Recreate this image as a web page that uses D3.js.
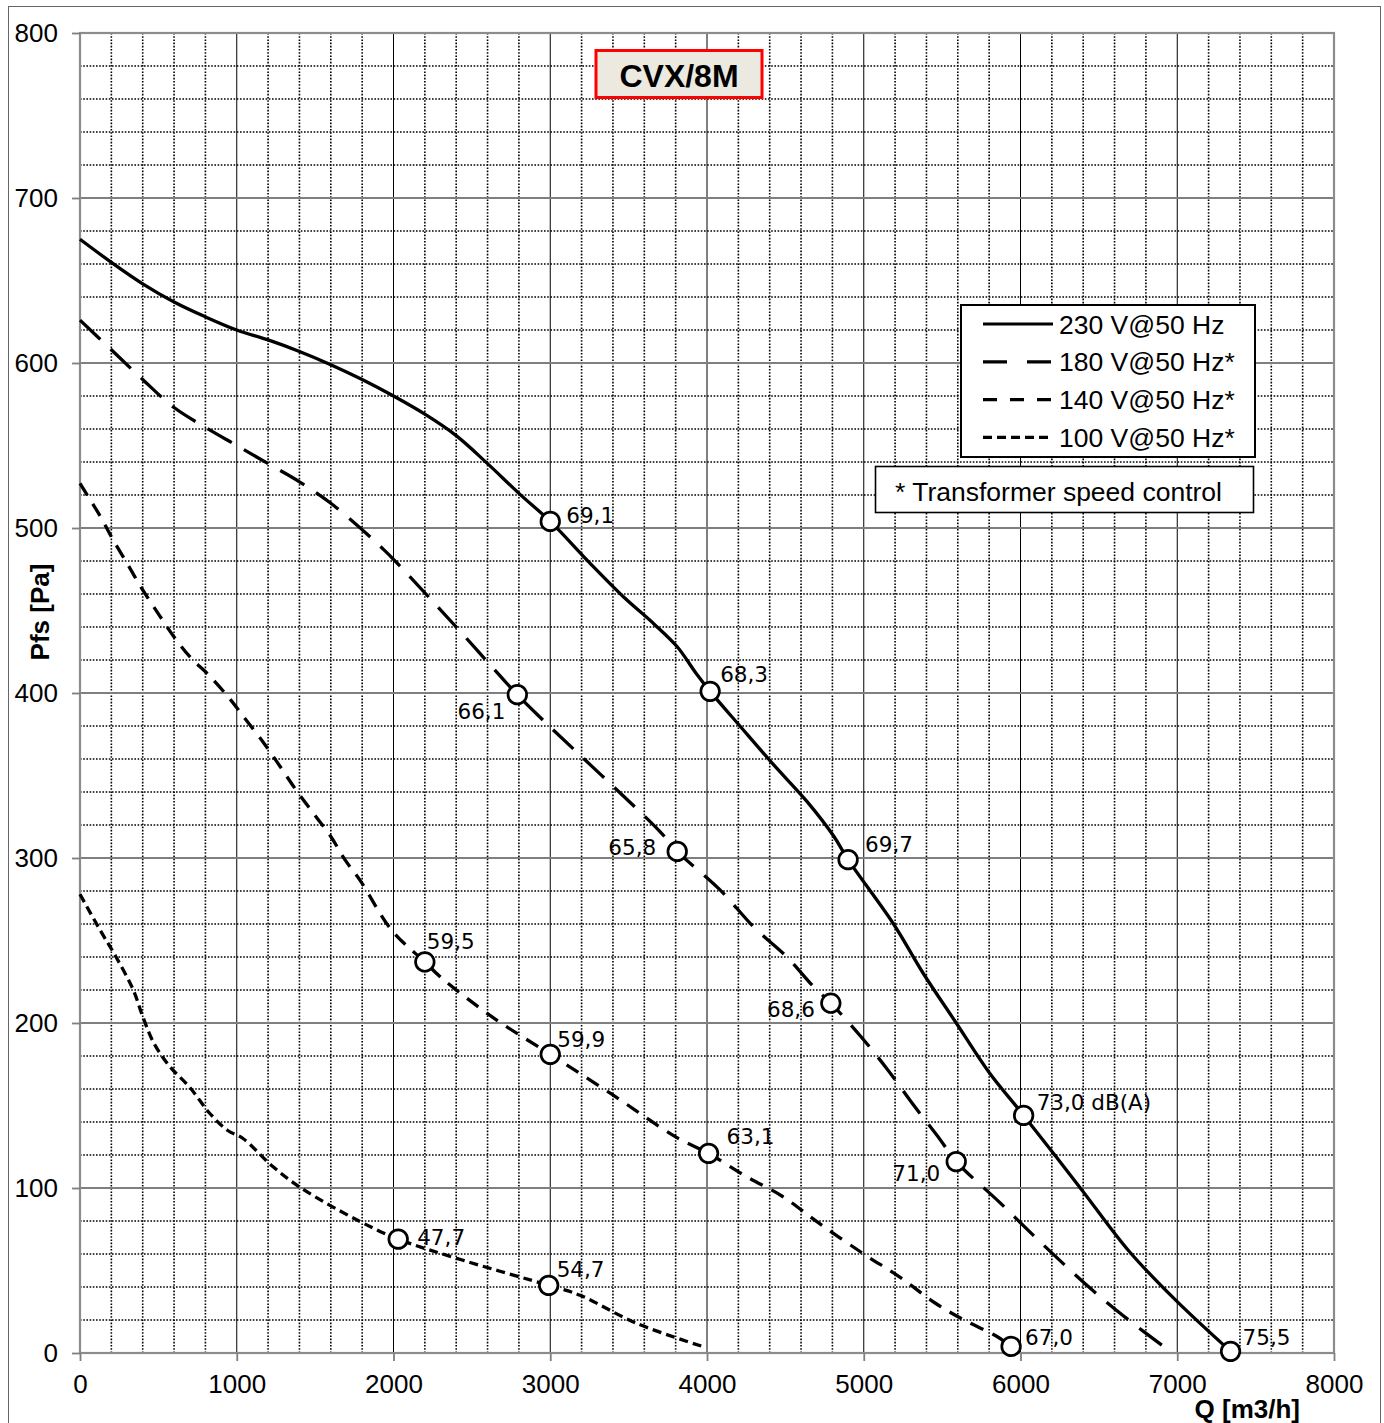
<!DOCTYPE html>
<html>
<head>
<meta charset="utf-8">
<script src="https://cdn.jsdelivr.net/npm/d3@7"></script>
<style>
  body { margin: 0; background: #fff; }
  svg { display: block; }
</style>
</head>
<body>
<svg id="chart"></svg>
<script>
// fan curves, CVX/8M  (Q in m3/h, Pfs in Pa)
const xTicks = [0, 1000, 2000, 3000, 4000, 5000, 6000, 7000, 8000];
const yTicks = [0, 100, 200, 300, 400, 500, 600, 700, 800];

const seriesNames = ["230 V@50 Hz", "180 V@50 Hz*", "140 V@50 Hz*", "100 V@50 Hz*"];

const curve230 = [[0,675],[200,661],[400,648],[600,637],[800,628],[1000,620],[1200,614],[1400,607],
  [1600,599],[1800,590],[2000,580],[2200,569],[2400,556],[2600,539],[2800,521],[3000,504],[3250,479],
  [3470,458],[3660,442],[3810,428],[3930,412],[4020,401],[4210,380],[4420,357],[4640,334],[4810,313],
  [4900,299],[5190,260],[5380,230],[5590,200],[5800,170],[6020,144],[6390,99],[6690,62],[6990,32],[7340,1]];

const curve180 = [[0,626],[200,608],[400,590],[600,573],[800,561],[1000,550],[1200,539],[1400,528],
  [1600,515],[1800,499],[1925,488],[2000,481],[2400,440],[2790,399],[2960,383],[3700,316],[3810,304],
  [4080,281],[4300,258],[4510,240],[4680,222],[4790,212],[4980,192],[5150,172],[5320,150],[5490,129],
  [5590,116],[5870,91],[6140,66],[6460,38],[6690,20],[6940,2],[6966,0]];

const curve140 = [[0,527],[130,507],[210,493],[310,477],[390,464],[500,448],[600,434],[710,421],
  [820,411],[960,396],[1040,386],[1170,370],[1280,355],[1380,341],[1490,327],[1600,313],[1690,299],
  [1790,286],[1990,256],[2200,237],[2310,227],[2640,203],[3000,181],[3390,157],[3800,131],[4010,121],
  [4250,107],[4480,95],[4710,79],[5000,60],[5230,46],[5460,30],[5640,20],[5850,10],[5940,4]];

const curve100 = [[0,278],[130,256],[230,240],[340,220],[400,204],[470,188],[570,174],[700,161],
  [830,145],[940,135],[1040,130],[1230,113],[1410,100],[1780,80],[2030,69],[2450,56],[2990,41],
  [3190,35],[3550,18],[3970,4]];

// operating points with noise level
const points230 = [[3000,504,"69,1"],[4020,401,"68,3"],[4900,299,"69,7"],[6020,144,"73,0 dB(A)"],[7340,1,"75,5"]];
const points180 = [[2790,399,"66,1"],[3810,304,"65,8"],[4790,212,"68,6"],[5590,116,"71,0"]];
const points140 = [[2200,237,"59,5"],[3000,181,"59,9"],[4010,121,"63,1"],[5940,4,"67,0"]];
const points100 = [[2030,69,"47,7"],[2990,41,"54,7"]];

const title = "CVX/8M";
const footnote = "* Transformer speed control";

// label offsets from the marker (dx, dy, anchor) - same order as the point arrays
const labelPos230 = [[16,-6,"start"],[10,-17,"start"],[17,-15,"start"],[13,-13,"start"],[12,-14,"start"]];
const labelPos180 = [[-12,17,"end"],[-21,-4,"end"],[-16,6,"end"],[-16,12,"end"]];
const labelPos140 = [[2,-21,"start"],[7,-15,"start"],[18,-17,"start"],[14,-9,"start"]];
const labelPos100 = [[19,-2,"start"],[8,-16,"start"]];

const series = [
  { name: seriesNames[0], data: curve230, pts: points230, lbl: labelPos230, dash: null,    legendDash: null },
  { name: seriesNames[1], data: curve180, pts: points180, lbl: labelPos180, dash: "28,14", legendDash: "24,20" },
  { name: seriesNames[2], data: curve140, pts: points140, lbl: labelPos140, dash: "14,10", legendDash: "14,13" },
  { name: seriesNames[3], data: curve100, pts: points100, lbl: labelPos100, dash: "9,5",   legendDash: "9,5" }
];

const W = 1384, H = 1423;
const mLeft = 80, mRight = 1334, mTop = 33, mBottom = 1353;
const axisFont = "'Liberation Sans', Arial, sans-serif";

const svg = d3.select("#chart").attr("width", W).attr("height", H);

const x = d3.scaleLinear().domain([0, 8000]).range([mLeft, mRight]);
const y = d3.scaleLinear().domain([0, 800]).range([mBottom, mTop]);

// outer frame of the picture
svg.append("rect")
  .attr("x", 8.5).attr("y", 6.5).attr("width", 1372).attr("height", 1440)
  .attr("fill", "none").attr("stroke", "#666").attr("stroke-width", 1);

// minor grid (dotted)
const minorX = d3.range(200, 8000, 200).filter(v => v % 1000 !== 0);
const minorY = d3.range(20, 800, 20).filter(v => v % 100 !== 0);
const grid = svg.append("g");
grid.selectAll(".mx").data(minorX).join("line")
  .attr("x1", d => x(d)).attr("x2", d => x(d)).attr("y1", mTop).attr("y2", mBottom)
  .attr("stroke", "#000").attr("stroke-width", 1.6).attr("stroke-dasharray", "1.6,1.6");
grid.selectAll(".my").data(minorY).join("line")
  .attr("x1", mLeft).attr("x2", mRight).attr("y1", d => y(d)).attr("y2", d => y(d))
  .attr("stroke", "#000").attr("stroke-width", 1.6).attr("stroke-dasharray", "1.6,1.6");

// major grid
grid.selectAll(".Mx").data(xTicks.slice(1, -1)).join("line")
  .attr("x1", d => x(d)).attr("x2", d => x(d)).attr("y1", mTop).attr("y2", mBottom)
  .attr("stroke", "#000").attr("stroke-width", 1);
grid.selectAll(".My").data(yTicks.slice(1, -1)).join("line")
  .attr("x1", mLeft).attr("x2", mRight).attr("y1", d => y(d)).attr("y2", d => y(d))
  .attr("stroke", "#7f7f7f").attr("stroke-width", 1.8);

// plot frame
svg.append("rect")
  .attr("x", mLeft).attr("y", mTop).attr("width", mRight - mLeft).attr("height", mBottom - mTop)
  .attr("fill", "none").attr("stroke", "#8c8c8c").attr("stroke-width", 2.2);

// axes
const yAxis = svg.append("g").attr("transform", `translate(${mLeft},0)`)
  .call(d3.axisLeft(y).tickValues(yTicks).tickSize(8).tickPadding(14).tickFormat(d3.format("d")));
const xAxis = svg.append("g").attr("transform", `translate(0,${mBottom})`)
  .call(d3.axisBottom(x).tickValues(xTicks).tickSize(8).tickPadding(14).tickFormat(d3.format("d")));
[xAxis, yAxis].forEach(a => {
  a.select(".domain").remove();
  a.selectAll(".tick line").attr("stroke", "#7f7f7f").attr("stroke-width", 1.8);
  a.selectAll(".tick text").attr("fill", "#000").style("font-family", axisFont).style("font-size", "26px");
});
xAxis.selectAll(".tick text").attr("dy", "0.68em");

svg.append("text")
  .attr("transform", "translate(49,612) rotate(-90)")
  .attr("text-anchor", "middle")
  .style("font-family", axisFont).style("font-size", "26px").style("font-weight", "bold")
  .text("Pfs [Pa]");
svg.append("text")
  .attr("x", 1300).attr("y", 1418).attr("text-anchor", "end")
  .style("font-family", axisFont).style("font-size", "26px").style("font-weight", "bold")
  .text("Q [m3/h]");

// curves
const line = d3.line().x(d => x(d[0])).y(d => y(d[1])).curve(d3.curveCatmullRom.alpha(0.5));
const curves = svg.append("g");
series.forEach(s => {
  curves.append("path")
    .attr("d", line(s.data))
    .attr("fill", "none").attr("stroke", "#000").attr("stroke-width", 3.3)
    .attr("stroke-dasharray", s.dash);
});

// markers and labels
series.forEach(s => {
  const g = svg.append("g");
  g.selectAll("circle").data(s.pts).join("circle")
    .attr("cx", d => x(d[0])).attr("cy", d => y(d[1])).attr("r", 9.3)
    .attr("fill", "#fff").attr("stroke", "#000").attr("stroke-width", 2.7);
  g.selectAll("text").data(s.pts).join("text")
    .attr("x", (d, i) => x(d[0]) + s.lbl[i][0])
    .attr("y", (d, i) => y(d[1]) + s.lbl[i][1])
    .attr("dy", "0.36em")
    .attr("text-anchor", (d, i) => s.lbl[i][2])
    .style("font-family", "'DejaVu Sans', sans-serif").style("font-size", "21.5px")
    .text(d => d[2]);
});

// title box
svg.append("rect")
  .attr("x", 596).attr("y", 50.5).attr("width", 166).attr("height", 47)
  .attr("fill", "#ebe9e0").attr("stroke", "#ff0000").attr("stroke-width", 3);
svg.append("text")
  .attr("x", 679).attr("y", 75).attr("dy", "0.36em").attr("text-anchor", "middle")
  .style("font-family", axisFont).style("font-size", "32px").style("font-weight", "bold")
  .text(title);

// legend
const legend = svg.append("g");
legend.append("rect")
  .attr("x", 961).attr("y", 305).attr("width", 294).attr("height", 152)
  .attr("fill", "#fff").attr("stroke", "#000").attr("stroke-width", 2);
series.forEach((s, i) => {
  const ly = 324 + i * 37.8;
  legend.append("line")
    .attr("x1", 983).attr("x2", 1053).attr("y1", ly).attr("y2", ly)
    .attr("stroke", "#000").attr("stroke-width", 3.2)
    .attr("stroke-dasharray", s.legendDash);
  legend.append("text")
    .attr("x", 1059).attr("y", ly).attr("dy", "0.36em")
    .style("font-family", axisFont).style("font-size", "26.5px")
    .text(s.name);
});

svg.append("rect")
  .attr("x", 875.5).attr("y", 466.5).attr("width", 378).attr("height", 46)
  .attr("fill", "#fff").attr("stroke", "#000").attr("stroke-width", 1.6);
svg.append("text")
  .attr("x", 895).attr("y", 491).attr("dy", "0.36em")
  .style("font-family", axisFont).style("font-size", "26.5px")
  .text(footnote);
</script>
</body>
</html>
